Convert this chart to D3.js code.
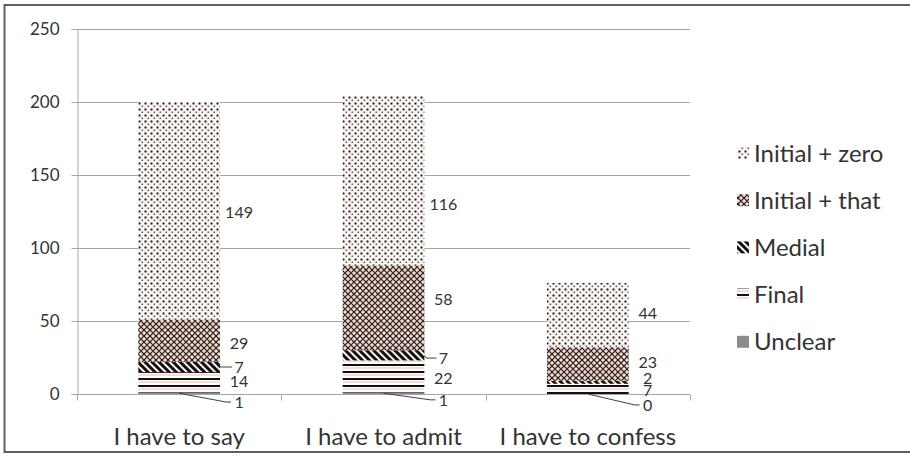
<!DOCTYPE html>
<html>
<head>
<meta charset="utf-8">
<script src="https://cdn.jsdelivr.net/npm/d3@7"></script>
<style>
  html, body { margin: 0; padding: 0; background: #fff; }
  svg { display: block; }
  text { font-family: Lato, "Open Sans", sans-serif; fill: #333; }
</style>
</head>
<body>
<svg id="chart" width="910" height="456"></svg>
<script>
// ---------- data ----------
const categories = ["I have to say", "I have to admit", "I have to confess"];
const seriesNames = ["Unclear", "Final", "Medial", "Initial + that", "Initial + zero"];
const unclear     = [1, 1, 0];
const finalPos    = [14, 22, 7];
const medial      = [7, 7, 2];
const initialThat = [29, 58, 23];
const initialZero = [149, 116, 44];
const yTicks = [0, 50, 100, 150, 200, 250];

// label nudges (value units, added to segment midpoint) – layout only
const labelNudge = {
  "Unclear":        [-6, -4.5, -7.5],
  "Final":          [0.5, -1, -0.8],
  "Medial":         [0, -1.9, 3],
  "Initial + that": [-1.5, 6, 1.4],
  "Initial + zero": [-0.8, -16, 1.5]
};
const leader = {
  "Unclear": [true, true, true],
  "Medial": [true, true, false]
};

// ---------- build table ----------
const seriesValues = [unclear, finalPos, medial, initialThat, initialZero];
const table = categories.map((c, i) => {
  const row = { category: c };
  seriesNames.forEach((s, k) => row[s] = seriesValues[k][i]);
  return row;
});
const stacked = d3.stack().keys(seriesNames)(table);

// ---------- layout ----------
const svg = d3.select("#chart");
const plot = { left: 77, right: 690, top: 29, bottom: 394 };

const x = d3.scaleBand().domain(categories)
  .range([plot.left, plot.right]).paddingInner(0.6).paddingOuter(0.3);
const y = d3.scaleLinear().domain([0, 250]).range([plot.bottom, plot.top]);

// ---------- patterns ----------
const defs = svg.append("defs");
function pat(id, w, h, draw, transform) {
  const p = defs.append("pattern").attr("id", id).attr("patternUnits", "userSpaceOnUse")
    .attr("width", w).attr("height", h);
  if (transform) p.attr("patternTransform", transform);
  draw(p);
}
pat("p-zero", 6, 6, p => {
  p.append("rect").attr("width", 6).attr("height", 6).attr("fill", "#fffaf8");
  p.append("rect").attr("x", 0.5).attr("y", 0.5).attr("width", 2).attr("height", 2).attr("fill", "#1a1a1a");
  p.append("rect").attr("x", 3.5).attr("y", 3.5).attr("width", 1.6).attr("height", 1.6).attr("fill", "#555");
  p.append("rect").attr("x", 3.5).attr("y", 0.5).attr("width", 1).attr("height", 1).attr("fill", "#f6d6ca");
  p.append("rect").attr("x", 0.5).attr("y", 3.5).attr("width", 1).attr("height", 1).attr("fill", "#f6d6ca");
});
pat("p-that", 6, 6, p => {
  p.append("rect").attr("width", 6).attr("height", 6).attr("fill", "#f6d3c5");
  p.append("path").attr("d", "M0,0L6,6M6,0L0,6").attr("stroke", "#1a1a1a").attr("stroke-width", 1.2);
  p.append("rect").attr("x", 2.4).attr("y", 2.4).attr("width", 1.2).attr("height", 1.2).attr("fill", "#555");
  p.append("rect").attr("x", 0).attr("y", 2.5).attr("width", 1).attr("height", 1).attr("fill", "#fdeee8");
  p.append("rect").attr("x", 2.5).attr("y", 0).attr("width", 1).attr("height", 1).attr("fill", "#fdeee8");
});
pat("p-medial", 5, 5, p => {
  p.append("rect").attr("width", 5).attr("height", 5).attr("fill", "#fdf3ef");
  p.append("rect").attr("width", 3).attr("height", 5).attr("fill", "#111");
}, "rotate(-45)");
pat("p-final", 4, 7, p => {
  p.append("rect").attr("width", 4).attr("height", 7).attr("fill", "#ffffff");
  p.append("rect").attr("y", 0).attr("width", 4).attr("height", 2).attr("fill", "#111");
  p.append("rect").attr("y", 3.5).attr("width", 4).attr("height", 1).attr("fill", "#f0b9a8");
});
const fills = {
  "Unclear": "#8c8c8c",
  "Final": "url(#p-final)",
  "Medial": "url(#p-medial)",
  "Initial + that": "url(#p-that)",
  "Initial + zero": "url(#p-zero)"
};

// ---------- border ----------
svg.append("rect").attr("x", 4.5).attr("y", 5).attr("width", 920).attr("height", 447)
  .attr("fill", "none").attr("stroke", "#5f5f5f").attr("stroke-width", 2);

// ---------- grid ----------
svg.append("g").selectAll("line").data(yTicks.filter(d => d > 0)).join("line")
  .attr("x1", plot.left).attr("x2", plot.right)
  .attr("y1", d => Math.round(y(d)) + 0.5).attr("y2", d => Math.round(y(d)) + 0.5)
  .attr("stroke", "#a6a6a6").attr("stroke-width", 1);

// ---------- y axis ----------
const yAxis = svg.append("g").attr("transform", `translate(${plot.left + 0.5},0)`)
  .call(d3.axisLeft(y).tickValues(yTicks).tickSize(6).tickPadding(12));
yAxis.select(".domain").attr("stroke", "#a6a6a6");
yAxis.selectAll(".tick line").attr("stroke", "#a6a6a6");
yAxis.selectAll(".tick text").attr("font-size", 17).attr("fill", "#333")
  .style("font-family", "Lato, sans-serif");

// ---------- bars ----------
stacked.forEach(layer => {
  svg.append("g").selectAll("rect").data(layer).join("rect")
    .attr("x", d => x(d.data.category))
    .attr("width", x.bandwidth())
    .attr("y", d => y(d[1]))
    .attr("height", d => Math.max(0, y(d[0]) - y(d[1])))
    .attr("fill", fills[layer.key]);
});

// ---------- x axis ----------
const xAxisG = svg.append("g").attr("transform", `translate(0,${plot.bottom + 0.5})`);
xAxisG.append("line").attr("x1", plot.left).attr("x2", plot.right)
  .attr("stroke", "#a6a6a6");
const tickXs = [plot.left].concat(categories.map(c => x(c) + x.bandwidth() / 2 + x.step() / 2));
xAxisG.selectAll("line.tk").data(tickXs).join("line").attr("class", "tk")
  .attr("x1", d => Math.round(d) + 0.5).attr("x2", d => Math.round(d) + 0.5)
  .attr("y1", 0).attr("y2", 6).attr("stroke", "#a6a6a6");
xAxisG.selectAll("text").data(categories).join("text")
  .attr("x", d => x(d) + x.bandwidth() / 2).attr("y", 50)
  .attr("text-anchor", "middle").attr("font-size", 24).text(d => d);

// ---------- data labels ----------
const lblG = svg.append("g");
stacked.forEach(layer => {
  layer.forEach((d, i) => {
    const v = d[1] - d[0];
    const mid = (d[0] + d[1]) / 2 + labelNudge[layer.key][i];
    const bx = x(d.data.category) + x.bandwidth();
    const lx = bx + 19;
    const ly = y(mid);
    lblG.append("text").attr("x", lx).attr("y", ly).attr("dy", "0.36em")
      .attr("text-anchor", "middle").attr("font-size", 16).text(v);
    if (leader[layer.key] && leader[layer.key][i]) {
      const segMid = (d[0] + d[1]) / 2;
      let pts;
      if (layer.key === "Unclear") {
        const sx = x(d.data.category) + x.bandwidth() / 2;
        pts = [[sx, y(segMid)], [bx + 6, ly], [lx - 8, ly]];
      } else {
        pts = [[bx, y(segMid)], [bx + 2, ly], [lx - 7, ly]];
      }
      lblG.append("path").attr("d", d3.line()(pts))
        .attr("fill", "none").attr("stroke", "#404040").attr("stroke-width", 1);
    }
  });
});

// ---------- legend ----------
const legendOrder = ["Initial + zero", "Initial + that", "Medial", "Final", "Unclear"];
const lg = svg.append("g");
legendOrder.forEach((s, i) => {
  const cy = 153 + i * 47.2;
  lg.append("rect").attr("x", 737).attr("y", cy - 6).attr("width", 12).attr("height", 12)
    .attr("fill", fills[s]);
  lg.append("text").attr("x", 754).attr("y", cy).attr("dy", "0.36em")
    .attr("font-size", 24).text(s);
});
</script>
</body>
</html>
